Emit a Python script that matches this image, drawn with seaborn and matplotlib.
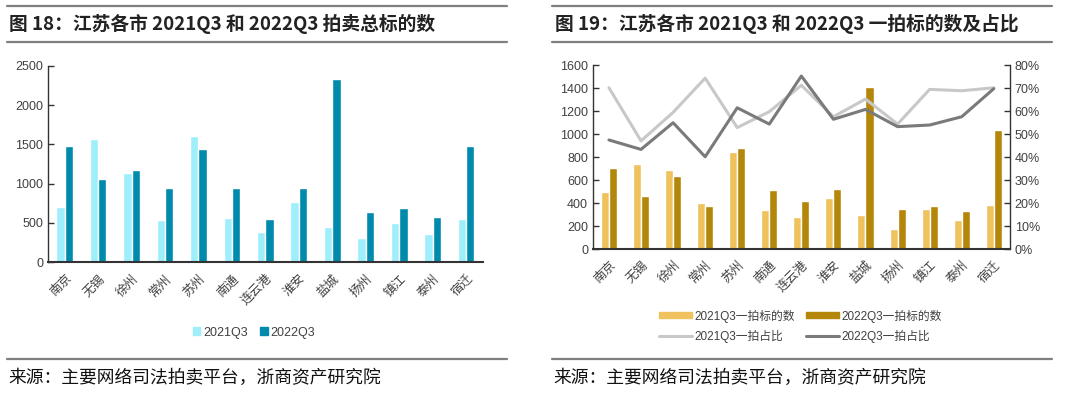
import numpy as np
import pandas as pd
import matplotlib.pyplot as plt
import seaborn as sns
from matplotlib.lines import Line2D
from matplotlib.patches import Patch

# 城市
cities = ["南京", "无锡", "徐州", "常州", "苏州", "南通", "连云港",
          "淮安", "盐城", "扬州", "镇江", "泰州", "宿迁"]

# 图18 拍卖总标的数
total_2021 = [708, 1568, 1140, 538, 1606, 568, 390, 767, 449, 305, 500, 364, 547]
total_2022 = [1483, 1059, 1169, 941, 1441, 949, 547, 941, 2335, 644, 691, 572, 1483]

# 图19 一拍标的数
first_2021 = [500, 735, 683, 400, 840, 335, 275, 440, 295, 170, 350, 255, 385]
first_2022 = [705, 460, 635, 370, 880, 515, 415, 525, 1410, 345, 375, 330, 1035]

# 图19 一拍占比
ratio_2021 = [0.701, 0.470, 0.594, 0.743, 0.528, 0.597, 0.712, 0.575, 0.652, 0.543, 0.694, 0.688, 0.701]
ratio_2022 = [0.474, 0.433, 0.549, 0.401, 0.614, 0.543, 0.752, 0.564, 0.607, 0.532, 0.539, 0.575, 0.697]

sns.set_theme(style="white")
plt.rcParams['font.family'] = ['Liberation Sans', 'Noto Sans CJK SC', 'DejaVu Sans']
plt.rcParams['axes.unicode_minus'] = False

TXT = "#404040"
fig = plt.figure(figsize=(10.8, 3.93), dpi=100)


def style_axes(ax, n):
    ax.set_xlim(-0.5, n - 0.5)
    ax.set_xticks(range(n))
    ax.set_xticklabels(cities, rotation=45, ha="right", rotation_mode="anchor",
                       fontsize=9, color=TXT, family=['Noto Sans CJK SC'])
    ax.set_xticks(np.arange(-0.5, n, 1.0), minor=True)
    ax.tick_params(axis="x", which="major", length=0, pad=7)
    ax.tick_params(axis="x", which="minor", direction="in", length=4, width=1, color="#333333")
    ax.tick_params(axis="y", direction="in", length=4, width=1, color="#333333",
                   labelsize=9, labelcolor=TXT, left=True)
    for s in ["top", "right"]:
        ax.spines[s].set_visible(False)
    for s in ["left", "bottom"]:
        ax.spines[s].set_color("#333333")
        ax.spines[s].set_linewidth(1)
    ax.set_xlabel("")
    ax.set_ylabel("")


# --- 图18 ---
df1 = pd.DataFrame({
    "city": cities * 2,
    "value": total_2021 + total_2022,
    "period": ["2021Q3"] * len(cities) + ["2022Q3"] * len(cities),
})
ax1 = fig.add_axes([0.0444, 0.3326, 0.4026, 0.5002])
sns.barplot(data=df1, x="city", y="value", hue="period", ax=ax1,
            palette=["#9eeefc", "#008aab"], width=0.5, gap=0, saturation=1, legend=False)
ax1.set_ylim(0, 2500)
ax1.set_yticks(range(0, 2501, 500))
style_axes(ax1, len(cities))
ax1.spines["bottom"].set_linewidth(1.5)

h1 = [Patch(color="#9eeefc", label="2021Q3"), Patch(color="#008aab", label="2022Q3")]
fig.legend(handles=h1, loc="center", bbox_to_anchor=(0.235, 0.153), ncol=2, frameon=False,
           fontsize=9, handlelength=0.6, handleheight=0.6, handletextpad=0.2,
           columnspacing=1.0, labelcolor=TXT)

# --- 图19 ---
df2 = pd.DataFrame({
    "city": cities * 2,
    "value": first_2021 + first_2022,
    "period": ["2021Q3一拍标的数"] * len(cities) + ["2022Q3一拍标的数"] * len(cities),
})
ax2 = fig.add_axes([0.549, 0.3664, 0.386, 0.4682])
sns.barplot(data=df2, x="city", y="value", hue="period", ax=ax2,
            palette=["#efc25e", "#b4860a"], width=0.5, gap=0, saturation=1, legend=False)
ax2.set_ylim(0, 1600)
ax2.set_yticks(range(0, 1601, 200))
style_axes(ax2, len(cities))
ax2.spines["bottom"].set_linewidth(1.5)

ax3 = ax2.twinx()
pos = np.arange(len(cities))
sns.lineplot(x=pos, y=ratio_2021, ax=ax3, color="#c8c8c8", linewidth=2.2)
sns.lineplot(x=pos, y=ratio_2022, ax=ax3, color="#7a7a7a", linewidth=2.2)
ax3.set_ylim(0, 0.8)
ax3.set_yticks(np.arange(0, 0.81, 0.1))
ax3.set_yticklabels([f"{int(round(v * 100))}%" for v in np.arange(0, 0.81, 0.1)])
ax3.tick_params(axis="y", direction="in", length=4, width=1, color="#333333",
                labelsize=9, labelcolor=TXT, right=True)
for s in ["top", "left", "bottom"]:
    ax3.spines[s].set_visible(False)
ax3.spines["right"].set_color("#333333")
ax3.spines["right"].set_linewidth(1)
ax3.set_xlim(-0.5, len(cities) - 0.5)
ax3.grid(False)

h2 = [Patch(color="#efc25e", label="2021Q3一拍标的数"),
      Line2D([], [], color="#c8c8c8", lw=2.2, label="2021Q3一拍占比"),
      Patch(color="#b4860a", label="2022Q3一拍标的数"),
      Line2D([], [], color="#7a7a7a", lw=2.2, label="2022Q3一拍占比")]
fig.legend(handles=h2, loc="center", bbox_to_anchor=(0.741, 0.17), ncol=2, frameon=False,
           handlelength=2.8, handleheight=0.4, handletextpad=0.2,
           columnspacing=1.0, labelspacing=0.6, labelcolor=TXT,
           prop={"family": ['Liberation Sans', 'Noto Sans CJK SC'], "size": 8.5})

# --- 标题、分隔线、来源 ---
rule = dict(color="#7f7f7f", linewidth=1.6, transform=fig.transFigure)
for x0, x1 in [(0.0065, 0.469), (0.511, 0.974)]:
    fig.add_artist(Line2D([x0, x1], [0.985, 0.985], **rule))
    fig.add_artist(Line2D([x0, x1], [0.893, 0.893], **rule))
    fig.add_artist(Line2D([x0, x1], [0.0865, 0.0865], **rule))

title_font = dict(fontsize=13.5, fontweight="bold", style="italic", color="#222222",
                  family=['Noto Sans CJK SC'], va="center", ha="left")
fig.text(0.008, 0.939, "图 18：江苏各市 2021Q3 和 2022Q3 拍卖总标的数", **title_font)
fig.text(0.514, 0.939, "图 19：江苏各市 2021Q3 和 2022Q3 一拍标的数及占比", **title_font)

src_font = dict(fontsize=12.8, color="#111111", family=['Noto Sans CJK SC'], va="center", ha="left")
fig.text(0.008, 0.038, "来源：主要网络司法拍卖平台，浙商资产研究院", **src_font)
fig.text(0.512, 0.038, "来源：主要网络司法拍卖平台，浙商资产研究院", **src_font)

fig.savefig("out.png", dpi=100, facecolor="white")
